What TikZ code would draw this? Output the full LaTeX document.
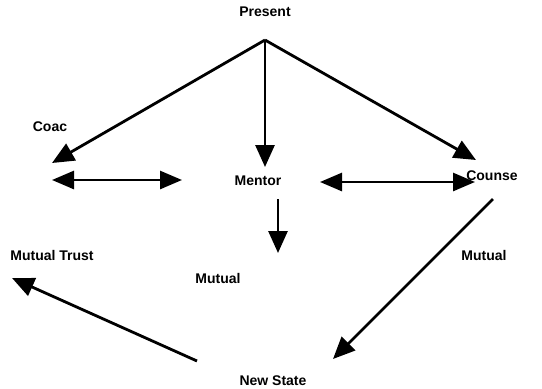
\documentclass[tikz,border=0pt]{standalone}
\usepackage{fontspec}
\setmainfont{Liberation Sans}
\usetikzlibrary{arrows.meta}

\begin{document}
\begin{tikzpicture}[x=1pt, y=-1pt,
  tag/.style={font=\fontsize{14}{16}\selectfont\bfseries, inner sep=0pt},
  line/.style={draw, line width=2.8pt, -{Triangle[length=22pt, width=19pt]}},
  twoway/.style={draw, line width=2.8pt, {Triangle[length=22pt, width=18pt]}-{Triangle[length=22pt, width=18pt]}}]

  \useasboundingbox (0,0) rectangle (542,389);

  \node [tag] (present) at (265,12) {Present};
  \node [tag] (coac) at (50,127) {Coac};
  \node [tag] (mentor) at (258,181) {Mentor};
  \node [tag] (counse) at (492,176) {Counse};
  \node [tag] (trust) at (52,255) {Mutual Trust};
  \node [tag] (mutualmid) at (218,278) {Mutual};
  \node [tag] (mutualright) at (484,255) {Mutual};
  \node [tag] (newstate) at (273,381) {New State};

  \coordinate (apex) at (265,40);
  \coordinate (coactip) at (52,163);
  \coordinate (mentortip) at (265,167);
  \coordinate (counsetip) at (476,160);
  \coordinate (ll) at (52,180);
  \coordinate (lr) at (182,180);
  \coordinate (rl) at (320,182);
  \coordinate (rr) at (475,182);
  \coordinate (downtop) at (278,199);
  \coordinate (downtip) at (278,253);
  \coordinate (counseout) at (493,199);
  \coordinate (statein) at (333,359);
  \coordinate (stateout) at (197,361);
  \coordinate (trusttip) at (12,278);

  \path [line] (apex) -- (coactip);
  \path [line] (apex) -- (mentortip);
  \path [line] (apex) -- (counsetip);
  \path [twoway] (ll) -- (lr);
  \path [twoway] (rl) -- (rr);
  \path [line] (downtop) -- (downtip);
  \path [line] (counseout) -- (statein);
  \path [line] (stateout) -- (trusttip);
\end{tikzpicture}
\end{document}
